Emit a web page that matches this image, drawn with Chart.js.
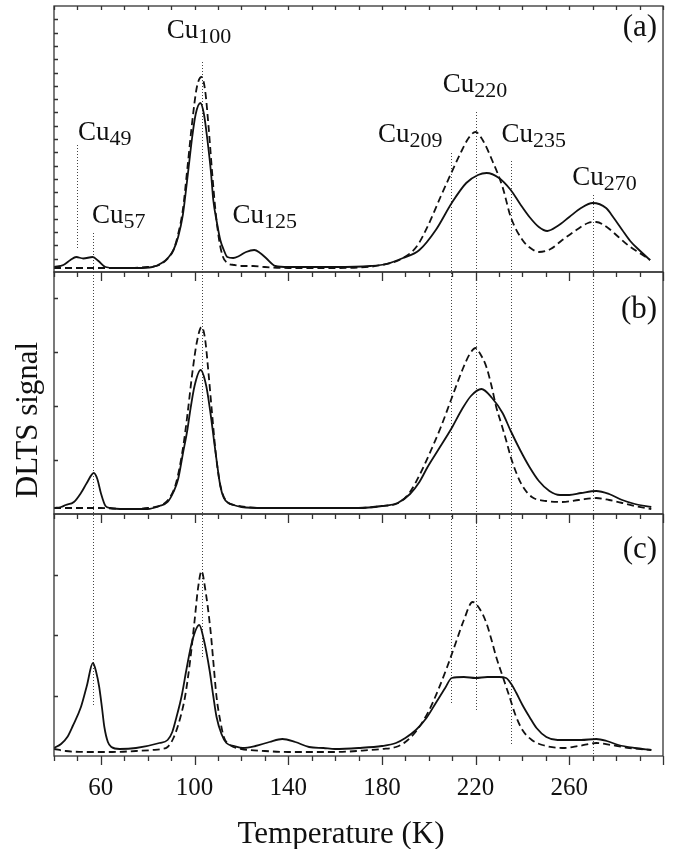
<!DOCTYPE html>
<html lang="en">
<head>
<meta charset="UTF-8">
<title>DLTS spectra</title>
<script src="https://cdn.jsdelivr.net/npm/chart.js@4.4.0/dist/chart.umd.min.js"></script>
<style>
  html, body { margin: 0; padding: 0; background: #fff; }
  #wrap { width: 673px; height: 849px; }
</style>
</head>
<body>
<div id="wrap"><canvas id="dlts" width="673" height="849"></canvas></div>
<script>
// Temperature (K) and DLTS signal (arb. units), one pair per curve
const aSolidT = [40, 44, 47, 49.5, 52.5, 56.5, 59, 62, 66, 75, 82, 86, 89, 91, 93, 95, 96, 97.5, 99, 100.5, 102.5, 104, 105.5, 107, 108, 109.5, 111, 112.5, 114, 116.5, 119, 122, 125.5, 128, 130.5, 134.5, 140, 160, 175, 182, 189, 196, 203, 209.8, 216, 221, 224.7, 230, 235, 239, 243, 247, 250.6, 255, 260, 265, 270, 275.7, 279, 282.6, 286, 289.8, 294.5];
const aSolidV = [5, 7, 12, 15, 13.5, 15, 11, 5, 4, 4, 5, 9, 15, 22, 35, 57, 75, 105, 135, 158, 169, 158, 132, 100, 72, 50, 32, 22, 15, 14, 16, 20, 22, 19, 14, 6, 5, 5, 6, 8, 14, 22, 42, 69, 89, 97, 99, 94, 82, 68, 55, 45, 41, 46, 55, 64, 69, 64, 54, 42, 31, 22, 12];
const aDashT = [40, 50, 60, 70, 80, 85, 88, 91, 93, 95, 97, 99, 101, 103, 104.5, 106, 107.5, 109, 110.5, 112, 114, 117, 120, 125, 130, 140, 160, 180, 189, 195, 200, 205, 209.8, 214, 217, 220, 223, 227, 231.5, 235, 240, 244, 247, 252, 257, 263, 268, 271.5, 276, 281, 285.5, 290, 294.5];
const aDashV = [4, 4, 4, 4, 5, 7, 12, 22, 38, 62, 105, 150, 185, 195, 182, 145, 100, 60, 32, 16, 9, 7, 6, 6, 5, 4, 4, 7, 14, 26, 48, 75, 100, 121, 134, 140, 132, 112, 85, 55, 32, 23, 20, 23, 32, 42, 49, 50, 45, 35, 26, 19, 12];

const bSolidT = [40, 43, 45, 48.5, 51.5, 54, 57, 58.5, 60, 62, 64, 70, 80, 85, 88.5, 91, 93, 95, 97, 98, 100, 102.6, 105, 106.8, 108.5, 109.8, 111, 112.5, 114.5, 116.6, 120, 130, 150, 170, 180, 186.7, 192, 196, 199.5, 204, 209.8, 214, 218, 222.5, 227, 231.5, 235, 239, 243, 247, 251.5, 256, 260, 265, 271.5, 277, 282.6, 288, 295];
const bSolidV = [6, 7, 9, 12, 21, 31, 41, 35, 21, 8, 6, 5, 5, 8, 12, 22, 35, 60, 85, 101, 128, 144, 128, 101, 70, 47, 28, 16, 11, 9, 7, 6, 6, 6, 8, 11, 20, 32, 47, 64, 86, 104, 118, 125, 116, 101, 83, 64, 47, 33, 23, 19, 19, 21, 23, 20, 14, 10, 7];
const bDashT = [40, 50, 60, 70, 80, 86, 89, 92, 95, 97, 99, 101, 103, 104.5, 106, 107.5, 109, 110.5, 112, 114, 117, 122, 130, 150, 170, 180, 187, 192, 196.5, 201, 205, 209.8, 214.5, 217.5, 220, 222, 224.6, 226.8, 228.8, 231, 233, 235, 237.4, 240, 244, 250, 257, 264, 271.5, 277, 282.6, 288, 295];
const bDashV = [6, 6, 6, 5, 6, 9, 15, 30, 65, 100, 140, 172, 187, 175, 140, 100, 62, 35, 20, 12, 9, 7, 6, 6, 6, 8, 11, 22, 41, 64, 86, 116, 145, 160, 166, 160, 147, 128, 107, 90, 74, 57, 41, 28, 17, 13, 12, 14, 16, 14, 11, 8, 5];

const cSolidT = [40, 43, 45.7, 48, 51.5, 54, 56.6, 58, 59.3, 60.5, 61.5, 63, 64.5, 68, 75, 85, 88.5, 90.5, 92.3, 94.5, 96.5, 99, 102, 104, 106.4, 108, 109.4, 111.5, 113.6, 117, 120.6, 126, 132, 137.5, 143, 148.9, 155, 160, 170, 180, 186, 190, 194.5, 199, 203, 207, 209.8, 215, 220, 225, 230, 233, 235.5, 237.4, 240, 243, 246, 250.2, 255, 260, 265, 271.5, 276, 281, 288, 295];
const cSolidV = [8, 12, 19, 30, 49, 70, 93, 84, 69, 48, 29, 14, 9, 7, 8, 13, 16, 24, 39, 60, 86, 115, 131, 116, 86, 60, 39, 22, 13, 10, 8, 10, 14, 17, 14, 9, 8, 7, 8, 10, 13, 18, 26, 38, 53, 68, 78, 79, 78, 79, 79, 78, 71, 63, 51, 39, 28, 19, 16, 16, 16, 17, 15, 11, 8, 6];
const cDashT = [40, 45, 55, 65, 75, 82, 86, 88.5, 91, 94, 96, 98, 100, 101.5, 103, 104.5, 106.8, 108, 109.4, 111, 112.5, 114.5, 116.6, 120, 130, 140, 160, 175, 180, 186, 190, 195, 200, 204, 208, 211.5, 215, 218.7, 221.5, 224.6, 226.8, 228.8, 231.5, 234.5, 237, 240, 244, 248.5, 257, 264, 271.5, 278, 285.6, 295];
const cDashV = [7, 5, 4, 4, 5, 6, 7, 9, 18, 39, 60, 93, 135, 168, 185, 168, 126, 95, 59, 35, 19, 12, 9, 7, 5, 4, 4, 6, 7, 9, 14, 26, 45, 66, 90, 113, 136, 154, 148, 133, 116, 99, 80, 59, 41, 26, 16, 11, 8, 10, 13, 11, 8, 6];

// tick values
const xMin = 40, xMax = 300, xStep = 10;
const xLabelled = [60, 100, 140, 180, 220, 260];
const yMax = { ya: 266, yb: 242, yc: 242 };
const yStep = { ya: 13.3, yb: 54, yc: 60 };

// peak markers: temperature, and where the dotted line starts / stops (panel, signal)
const markers = [
  { t: 49.8, from: ['ya', 127], to: ['ya', 24] },
  { t: 56.6, from: ['ya', 39], to: ['yc', 51] },
  { t: 103, from: ['ya', 210], to: ['yc', 98] },
  { t: 209.5, from: ['ya', 119], to: ['yc', 51] },
  { t: 220, from: ['ya', 160], to: ['yc', 44] },
  { t: 235, from: ['ya', 111], to: ['yc', 11] },
  { t: 270, from: ['ya', 77], to: ['yc', 0] }
];
const peakNames = ['49', '57', '100', '125', '209', '220', '235', '270'];
const peakLabelT = [50.2, 56.2, 88.1, 116.2, 178.3, 206, 231, 261.3];
const peakLabelV = [132, 49, 234, 49, 130, 180, 130, 87];

const panelNames = ['(a)', '(b)', '(c)'];
const panelScales = ['ya', 'yb', 'yc'];
const panelNameV = [236, 196, 198];

const pts = (t, v) => t.map((x, i) => ({ x, y: v[i] }));
const SERIF = '"Liberation Serif", "Times New Roman", serif';

function curve(t, v, axis, dashed) {
  return {
    data: pts(t, v), yAxisID: axis,
    borderColor: '#111', borderWidth: 1.8, borderDash: dashed ? [7, 4] : [],
    pointRadius: 0, cubicInterpolationMode: 'monotone', fill: false
  };
}

function yScale(id, weight) {
  return {
    type: 'linear', position: 'left', stack: 'panels', stackWeight: yMax[id], weight,
    min: 0, max: yMax[id],
    ticks: { display: false, stepSize: yStep[id], maxTicksLimit: 100 },
    grid: { display: false, drawTicks: false },
    border: { display: false },
    afterFit: s => { s.width = 0; }
  };
}

const decor = {
  id: 'decor',
  beforeDatasetsDraw(chart) {
    const { ctx, scales: { x } } = chart;
    ctx.save();
    ctx.strokeStyle = '#444';
    ctx.lineWidth = 1;
    ctx.setLineDash([1, 2]);
    markers.forEach(m => {
      const px = Math.round(x.getPixelForValue(m.t)) + 0.5;
      ctx.beginPath();
      ctx.moveTo(px, chart.scales[m.from[0]].getPixelForValue(m.from[1]));
      ctx.lineTo(px, chart.scales[m.to[0]].getPixelForValue(m.to[1]));
      ctx.stroke();
    });
    ctx.restore();
  },
  afterDatasetsDraw(chart) {
    const { ctx, scales: { x } } = chart;
    const L = x.left, R = x.right;
    ctx.save();
    ctx.strokeStyle = '#333';
    ctx.lineWidth = 1.3;
    panelScales.forEach((id, i) => {
      const s = chart.scales[id];
      ctx.strokeRect(L, s.top, R - L, s.bottom - s.top);
      ctx.beginPath();
      x.ticks.forEach(tk => {
        const px = Math.round(x.getPixelForValue(tk.value)) + 0.5;
        const len = xLabelled.includes(tk.value) || tk.value === xMax ? 9 : 5;
        ctx.moveTo(px, s.bottom); ctx.lineTo(px, s.bottom + len);
        if (i === 0) { ctx.moveTo(px, s.top); ctx.lineTo(px, s.top + 4); }
      });
      s.ticks.forEach(tk => {
        if (tk.value <= 0 || tk.value >= yMax[id]) return;
        const py = Math.round(s.getPixelForValue(tk.value)) + 0.5;
        ctx.moveTo(L, py); ctx.lineTo(L + 4, py);
      });
      ctx.stroke();

      ctx.fillStyle = '#111';
      ctx.font = '31px ' + SERIF;
      ctx.textAlign = 'right';
      ctx.fillText(panelNames[i], x.getPixelForValue(297.5), s.getPixelForValue(panelNameV[i]));
    });

    // Cu peak labels with subscripts
    ctx.textAlign = 'left';
    const ya = chart.scales.ya;
    peakNames.forEach((n, i) => {
      const px = x.getPixelForValue(peakLabelT[i]);
      const py = ya.getPixelForValue(peakLabelV[i]);
      ctx.font = '27px ' + SERIF;
      ctx.fillText('Cu', px, py);
      const w = ctx.measureText('Cu').width;
      ctx.font = '22px ' + SERIF;
      ctx.fillText(n, px + w, py + 5);
    });

    // axis titles
    ctx.font = '31px ' + SERIF;
    ctx.textAlign = 'center';
    ctx.fillText('Temperature (K)', 341, 843);
    ctx.translate(37, 420);
    ctx.rotate(-Math.PI / 2);
    ctx.fillText('DLTS signal', 0, 0);
    ctx.restore();
  }
};

new Chart(document.getElementById('dlts'), {
  type: 'line',
  data: {
    datasets: [
      curve(aSolidT, aSolidV, 'ya', false), curve(aDashT, aDashV, 'ya', true),
      curve(bSolidT, bSolidV, 'yb', false), curve(bDashT, bDashV, 'yb', true),
      curve(cSolidT, cSolidV, 'yc', false), curve(cDashT, cDashV, 'yc', true)
    ]
  },
  options: {
    responsive: false, animation: false, devicePixelRatio: 1,
    layout: { padding: { left: 54, right: 10, top: 6, bottom: 0 } },
    plugins: { legend: { display: false }, tooltip: { enabled: false } },
    scales: {
      x: {
        type: 'linear', min: xMin, max: xMax,
        ticks: {
          stepSize: xStep, maxTicksLimit: 100, autoSkip: false, maxRotation: 0,
          padding: 8, color: '#111', font: { family: SERIF, size: 25 },
          callback: v => xLabelled.includes(v) ? String(v) : ''
        },
        grid: { display: false, drawTicks: true, tickLength: 9 },
        border: { display: false },
        afterFit: s => { s.height = 93; }
      },
      ya: yScale('ya', 3),
      yb: yScale('yb', 2),
      yc: yScale('yc', 1)
    }
  },
  plugins: [decor]
});
</script>
</body>
</html>
